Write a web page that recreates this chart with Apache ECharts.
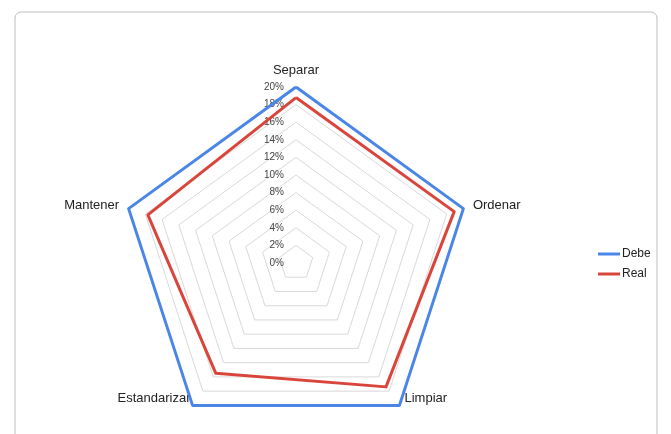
<!DOCTYPE html>
<html>
<head>
<meta charset="utf-8">
<script src="https://cdn.jsdelivr.net/npm/echarts@6/dist/echarts.min.js"></script>
<style>html,body{margin:0;padding:0;background:#fff}#main{width:671px;height:434px}</style>
</head>
<body>
<div id="main"></div>
<script>
var categorias = ['Separar', 'Ordenar', 'Limpiar', 'Estandarizar', 'Mantener'];
var debe = [20, 20, 20, 20, 20];
var real = [18.8, 18.9, 17.4, 15.5, 17.7];

var myChart = echarts.init(document.getElementById('main'));

// el radar de echarts gira en sentido antihorario, asi que se invierte el orden
var orden = [0, 4, 3, 2, 1];
function reordenar(arr) {
    return orden.map(function (i) { return arr[i]; });
}

var indicadores = reordenar(categorias).map(function (c, i) {
    var ind = { name: c, min: 0, max: 20 };
    if (i === 0) {
        ind.axisLabel = {
            show: true, color: '#444', fontSize: 10, fontFamily: 'Liberation Sans',
            formatter: '{value}%', margin: 12
        };
    }
    // nombres inferiores al lado del vertice, como en excel
    if (c === 'Limpiar') {
        ind.nameGap = 0;
        ind.nameTextStyle = { align: 'left', verticalAlign: 'bottom', padding: [0, 0, 0, 5] };
    }
    if (c === 'Estandarizar') {
        ind.nameGap = 0;
        ind.nameTextStyle = { align: 'right', verticalAlign: 'bottom', padding: [0, 2, 0, 0] };
    }
    return ind;
});

option = {
    backgroundColor: '#fff',
    color: ['#4a86e8', '#d9453b'],
    textStyle: { fontFamily: 'Liberation Sans' },
    graphic: [{
        type: 'rect',
        shape: { x: 15, y: 12, width: 642, height: 440, r: 6 },
        style: { fill: 'none', stroke: '#bdbdbd', lineWidth: 1 },
        silent: true
    }],
    legend: {
        orient: 'vertical',
        left: 593,
        top: 243,
        itemWidth: 22,
        itemHeight: 3,
        itemGap: 8,
        icon: 'rect',
        textStyle: { color: '#222', fontSize: 12, padding: [0, 0, 0, -3] },
        data: ['Debe', 'Real']
    },
    radar: {
        center: [296, 263],
        radius: 176,
        startAngle: 90,
        splitNumber: 10,
        shape: 'polygon',
        indicator: indicadores,
        axisName: { color: '#222', fontSize: 13 },
        nameGap: 10,
        axisLine: { show: false },
        axisTick: { show: false },
        axisLabel: { show: false },
        splitLine: { lineStyle: { color: '#d9d9d9', width: 1 } },
        splitArea: { show: false }
    },
    series: [{
        type: 'radar',
        symbol: 'none',
        data: [
            { name: 'Debe', value: reordenar(debe), lineStyle: { width: 3 } },
            { name: 'Real', value: reordenar(real), lineStyle: { width: 3 } }
        ]
    }]
};

myChart.setOption(option);
</script>
</body>
</html>
